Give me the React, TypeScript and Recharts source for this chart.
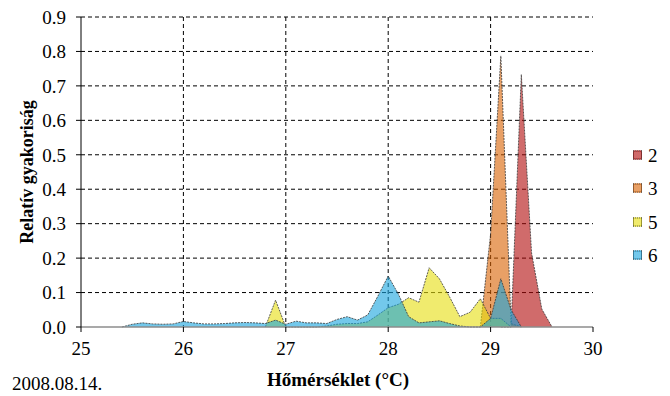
import React from "react";
import { AreaChart, Area, XAxis, YAxis, CartesianGrid } from "recharts";

const temps = [
  25.4, 25.5, 25.6, 25.7, 25.8, 25.9, 26.0, 26.1, 26.2, 26.3, 26.4, 26.5, 26.6, 26.7, 26.8, 26.9,
  27.0, 27.1, 27.2, 27.3, 27.4, 27.5, 27.6, 27.7, 27.8, 27.9, 28.0, 28.1, 28.2, 28.3, 28.4, 28.5,
  28.6, 28.7, 28.8, 28.9, 29.0, 29.1, 29.2, 29.3, 29.4, 29.5, 29.6,
];

// series "6" (blue)
const s6: (number | null)[] = [
  0, 0.008, 0.012, 0.009, 0.008, 0.009, 0.016, 0.012, 0.009, 0.009, 0.01, 0.012, 0.013, 0.012, 0.01, 0.02,
  0.008, 0.017, 0.012, 0.012, 0.01, 0.022, 0.03, 0.02, 0.035, 0.09, 0.148, 0.095, 0.03, 0.012, 0.015, 0.018,
  0.01, 0.003, 0, 0, 0.025, 0.14, 0.05, 0, null, null, null,
];

// series "5" (yellow)
const s5: (number | null)[] = [
  null, null, null, null, null, null, null, null, null, null, null, null, null, null, 0, 0.078,
  0, 0, 0, 0, 0.003, 0.008, 0.01, 0.01, 0.015, 0.035, 0.056, 0.066, 0.085, 0.072, 0.172, 0.14,
  0.087, 0.03, 0.043, 0.082, 0.025, 0.025, 0, null, null, null, null,
];

// series "3" (orange)
const s3: (number | null)[] = [
  null, null, null, null, null, null, null, null, null, null, null, null, null, null, null, null,
  null, null, null, null, null, null, null, null, null, null, null, null, null, null, null, null,
  null, null, null, 0, 0.27, 0.787, 0.01, 0, null, null, null,
];

// series "2" (red)
const s2: (number | null)[] = [
  null, null, null, null, null, null, null, null, null, null, null, null, null, null, null, null,
  null, null, null, null, null, null, null, null, null, null, null, null, null, null, null, null,
  null, null, null, null, null, 0, 0, 0.733, 0.215, 0.052, 0,
];

const seriesNames = ["2", "3", "5", "6"];
const seriesKeys = ["s2", "s3", "s5", "s6"];
const seriesColors = ["#b00808", "#d96100", "#e6de0d", "#16a3de"];
const xTicks = [25, 26, 27, 28, 29, 30];
const yTicks = [0, 0.1, 0.2, 0.3, 0.4, 0.5, 0.6, 0.7, 0.8, 0.9];

const data = temps.map((t, i) => ({ t, s2: s2[i], s3: s3[i], s5: s5[i], s6: s6[i] }));

const FONT = "'Liberation Serif'";
const OPACITY = 0.6;

export default function App() {
  return (
    <div style={{ position: "absolute", left: 0, top: 0, width: 670, height: 396, background: "#fff", fontFamily: FONT }}>
      <AreaChart
        width={670}
        height={396}
        data={data}
        margin={{ top: 17, right: 77, left: 31, bottom: 39 }}
        style={{ fontFamily: FONT }}
      >
        <CartesianGrid
          stroke="#000"
          strokeDasharray="4 3"
          verticalValues={[26, 27, 28, 29]}
          horizontalValues={[0.1, 0.2, 0.3, 0.4, 0.5, 0.6, 0.7, 0.8, 0.9]}
        />
        <XAxis
          dataKey="t"
          type="number"
          domain={[25, 30]}
          ticks={xTicks}
          interval={0}
          axisLine={{ stroke: "#8c8c8c", strokeWidth: 1.5 }}
          tickLine={{ stroke: "#000" }}
          tickSize={5}
          tickMargin={10}
          height={30}
          tick={{ fill: "#000", fontSize: 19, fontFamily: FONT }}
        />
        <YAxis
          type="number"
          domain={[0, 0.9]}
          ticks={yTicks}
          interval={0}
          width={50}
          axisLine={{ stroke: "#000" }}
          tickLine={{ stroke: "#000" }}
          tickSize={5}
          tickMargin={10}
          tickFormatter={(v: number) => v.toFixed(1)}
          tick={{ fill: "#000", fontSize: 19, fontFamily: FONT }}
        />
        {seriesKeys.map((k, i) => (
          <Area
            key={k}
            type="linear"
            dataKey={k}
            name={seriesNames[i]}
            stroke="#3a3a3a"
            strokeWidth={1}
            strokeOpacity={0.8}
            strokeDasharray="2 1"
            fill={seriesColors[i]}
            fillOpacity={OPACITY}
            isAnimationActive={false}
            dot={false}
            activeDot={false}
          />
        ))}
      </AreaChart>

      <div
        style={{
          position: "absolute",
          left: 27,
          top: 172,
          transform: "translate(-50%, -50%) rotate(-90deg)",
          whiteSpace: "nowrap",
          fontWeight: "bold",
          fontSize: 18,
          fontFamily: FONT,
        }}
      >
        Relatív gyakoriság
      </div>
      <div
        style={{
          position: "absolute",
          left: 338,
          top: 380,
          transform: "translate(-50%, -50%)",
          whiteSpace: "nowrap",
          fontWeight: "bold",
          fontSize: 19,
          fontFamily: FONT,
        }}
      >
        Hőmérséklet (°C)
      </div>
      <div
        style={{
          position: "absolute",
          left: 12,
          top: 384,
          transform: "translate(0, -50%)",
          whiteSpace: "nowrap",
          fontSize: 19,
          fontFamily: FONT,
        }}
      >
        2008.08.14.
      </div>
      {seriesNames.map((n, i) => (
        <div
          key={n}
          style={{
            position: "absolute",
            left: 633,
            top: 155 + i * 33.3,
            transform: "translate(0, -50%)",
            display: "flex",
            alignItems: "center",
            fontSize: 19,
            lineHeight: "19px",
            fontFamily: FONT,
          }}
        >
          <span
            style={{
              display: "inline-block",
              width: 7,
              height: 7,
              background: seriesColors[i],
              border: "1px dotted #555",
              marginRight: 6,
              position: "relative",
            }}
          >
            <span style={{ position: "absolute", inset: 0, background: "#fff", opacity: 1 - OPACITY }} />
          </span>
          {n}
        </div>
      ))}
    </div>
  );
}
